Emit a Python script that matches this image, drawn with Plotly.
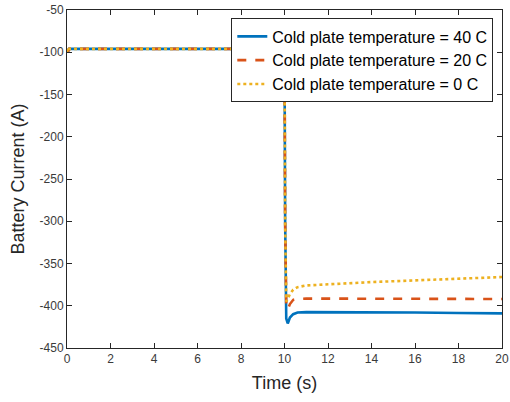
import plotly.graph_objects as go

# Simulated battery current for three cold plate temperatures
time_s = [0.0, 0.03, 0.1, 0.3, 5.0, 9.99, 10.0, 10.03, 10.08, 10.15, 10.25, 10.4,
          10.6, 11.0, 12.0, 14.0, 16.0, 18.0, 20.0]
current_40c = [-96, -100, -96, -96, -96, -96, -96, -300, -415, -421, -414, -410,
               -408, -407.5, -407.5, -407.5, -408, -408.5, -409]
current_20c = [-96, -100, -96, -96, -96, -96, -96, -300, -400, -404, -398, -393,
               -392, -391.5, -391.5, -391.5, -391.5, -392, -392]
current_0c = [-96, -100, -96, -96, -96, -96, -96, -300, -395, -392, -386, -381,
              -378, -376, -374.5, -372, -370, -368, -366]

series_names = ["Cold plate temperature = 40 C",
                "Cold plate temperature = 20 C",
                "Cold plate temperature = 0 C"]
x_ticks = list(range(0, 21, 2))
y_ticks = list(range(-450, -49, 50))
y_tick_text = [str(v) for v in y_ticks]  # plain hyphen-minus

fig = go.Figure()
styles = [("#0072BD", "solid", 2.6), ("#D95319", "dash", 2.6), ("#EDB120", "dot", 2.6)]
for name, y, (color, dash, width) in zip(series_names, [current_40c, current_20c, current_0c], styles):
    fig.add_trace(go.Scatter(x=time_s, y=y, mode="lines", name=name,
                             line=dict(color=color, dash=dash, width=width)))

axis_common = dict(showgrid=False, zeroline=False, showline=True, mirror="ticks",
                   linecolor="#262626", linewidth=1, ticks="inside", ticklen=5,
                   tickcolor="#262626", automargin=False,
                   tickfont=dict(family="Liberation Sans, Arial", size=12, color="#3a3a3a"))

fig.update_layout(
    width=510, height=402,
    margin=dict(l=67, r=8, t=10, b=54),
    paper_bgcolor="white", plot_bgcolor="white",
    font=dict(family="Liberation Sans, Arial", color="#262626"),
    xaxis=dict(range=[0, 20], tickvals=x_ticks,
               title=dict(text="Time (s)", font=dict(size=18, color="#262626"), standoff=10),
               **axis_common),
    yaxis=dict(range=[-450, -50], tickvals=y_ticks, ticktext=y_tick_text,
               title=dict(text="Battery Current (A)", font=dict(size=18, color="#262626"), standoff=10),
               **axis_common),
    legend=dict(x=0.98, y=0.975, xanchor="right", yanchor="top",
                bgcolor="white", bordercolor="#262626", borderwidth=1,
                font=dict(size=16, color="#000000"), tracegroupgap=0),
    showlegend=True,
)

fig.write_html("out.html")
